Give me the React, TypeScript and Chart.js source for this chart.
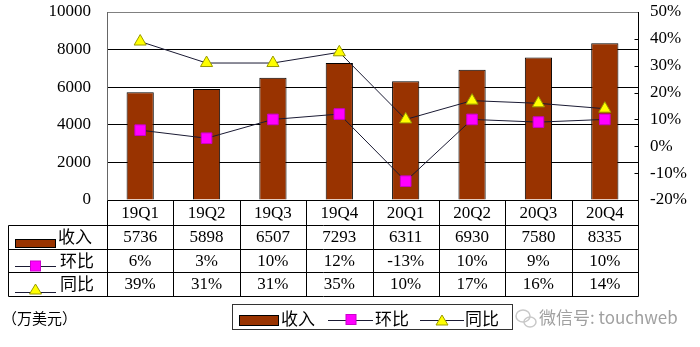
import React, { useEffect, useRef } from 'react';
import { Chart, registerables } from 'chart.js';

Chart.register(...registerables);

const categories = ['19Q1', '19Q2', '19Q3', '19Q4', '20Q1', '20Q2', '20Q3', '20Q4'];
const revenue = [5736, 5898, 6507, 7293, 6311, 6930, 7580, 8335];
const qoq = [6, 3, 10, 12, -13, 10, 9, 10];
const yoy = [39, 31, 31, 35, 10, 17, 16, 14];
const leftTicks = [0, 2000, 4000, 6000, 8000, 10000];
const rightTicks = [-20, -10, 0, 10, 20, 30, 40, 50];
const seriesNames = ['收入', '环比', '同比'];
const unitLabel = '（万美元）';
const watermark = '微信号: touchweb';

const BAR_COLOR = '#993300';
const LINE_COLOR = '#1a1a33';
const SQUARE_COLOR = '#ff00ff';
const TRI_COLOR = '#ffff00';
const SERIF = '"Liberation Serif", "Noto Sans CJK SC", serif';
const CJK = '"Noto Sans CJK SC", sans-serif';

function drawSquare(ctx: CanvasRenderingContext2D, cx: number, cy: number, s: number) {
  ctx.fillStyle = SQUARE_COLOR;
  ctx.strokeStyle = '#cc00cc';
  ctx.lineWidth = 1;
  ctx.fillRect(cx - s / 2, cy - s / 2, s, s);
  ctx.strokeRect(cx - s / 2, cy - s / 2, s, s);
}

function drawTriangle(ctx: CanvasRenderingContext2D, cx: number, bottom: number, w: number, h: number) {
  ctx.fillStyle = TRI_COLOR;
  ctx.strokeStyle = '#999900';
  ctx.lineWidth = 1;
  ctx.beginPath();
  ctx.moveTo(cx, bottom - h);
  ctx.lineTo(cx + w / 2, bottom);
  ctx.lineTo(cx - w / 2, bottom);
  ctx.closePath();
  ctx.fill();
  ctx.stroke();
}

function drawLineSym(ctx: CanvasRenderingContext2D, x1: number, x2: number, y: number) {
  ctx.strokeStyle = LINE_COLOR;
  ctx.lineWidth = 1;
  ctx.beginPath();
  ctx.moveTo(x1, Math.round(y) + 0.5);
  ctx.lineTo(x2, Math.round(y) + 0.5);
  ctx.stroke();
}

const a = (v: number) => Math.round(v) + 0.5;

const frameTicksPlugin = {
  id: 'frameTicks',
  afterDatasetsDraw(chart: any) {
    const ctx: CanvasRenderingContext2D = chart.ctx;
    const area = chart.chartArea;
    const y1 = chart.scales.y1;
    ctx.save();
    ctx.lineWidth = 1;
    ctx.strokeStyle = '#000';
    ctx.beginPath();
    for (const v of rightTicks) {
      if (v === rightTicks[0] || v === rightTicks[rightTicks.length - 1]) continue;
      const py = a(y1.getPixelForValue(v));
      ctx.moveTo(a(area.right) - 4, py);
      ctx.lineTo(a(area.right), py);
    }
    ctx.stroke();
    ctx.restore();
  },
};

const tablePlugin = {
  id: 'dataTable',
  afterDraw(chart: any) {
    const ctx: CanvasRenderingContext2D = chart.ctx;
    const area = chart.chartArea;
    const xs = chart.scales.x;
    const n = categories.length;
    const left = area.left;
    const right = area.right;
    const bounds: number[] = [];
    for (let i = 0; i <= n; i++) {
      if (i === 0) bounds.push(left);
      else if (i === n) bounds.push(right);
      else bounds.push((xs.getPixelForValue(i - 1) + xs.getPixelForValue(i)) / 2);
    }
    const top = area.bottom;
    const rowsY = [top, top + 25, top + 48.5, top + 72, top + 95.5];
    const tableLeft = 8;

    ctx.save();
    ctx.strokeStyle = '#000';
    ctx.lineWidth = 1;
    ctx.beginPath();
    for (let r = 1; r < rowsY.length; r++) {
      ctx.moveTo(a(tableLeft), a(rowsY[r]));
      ctx.lineTo(a(right), a(rowsY[r]));
    }
    ctx.moveTo(a(tableLeft), a(rowsY[1]));
    ctx.lineTo(a(tableLeft), a(rowsY[4]));
    for (const b of bounds) {
      ctx.moveTo(a(b), a(rowsY[0]));
      ctx.lineTo(a(b), a(rowsY[4]));
    }
    ctx.stroke();

    ctx.fillStyle = '#000';
    ctx.textAlign = 'center';
    ctx.textBaseline = 'middle';
    ctx.font = `17px ${SERIF}`;
    const rowTexts = [
      categories,
      revenue.map((v) => String(v)),
      qoq.map((v) => v + '%'),
      yoy.map((v) => v + '%'),
    ];
    for (let r = 0; r < 4; r++) {
      const cy = (rowsY[r] + rowsY[r + 1]) / 2 + 1;
      for (let i = 0; i < n; i++) {
        ctx.fillText(rowTexts[r][i], xs.getPixelForValue(i), cy);
      }
    }

    ctx.fillStyle = BAR_COLOR;
    ctx.strokeStyle = '#000';
    ctx.fillRect(15, 239, 41, 9);
    ctx.strokeRect(15.5, 239.5, 40, 8);
    drawLineSym(ctx, 15, 56, 266);
    drawSquare(ctx, 35.5, 266, 10);
    drawLineSym(ctx, 15, 56, 292);
    drawTriangle(ctx, 35.5, 294, 12, 10);

    ctx.fillStyle = '#000';
    ctx.textAlign = 'left';
    ctx.font = `17px ${CJK}`;
    ctx.fillText(seriesNames[0], 58, (rowsY[1] + rowsY[2]) / 2);
    ctx.fillText(seriesNames[1], 60, (rowsY[2] + rowsY[3]) / 2);
    ctx.fillText(seriesNames[2], 60, (rowsY[3] + rowsY[4]) / 2);

    ctx.font = `15px ${CJK}`;
    ctx.fillText(unitLabel, 2, 318);

    ctx.strokeStyle = '#333';
    ctx.strokeRect(232.5, 304.5, 280, 25);
    ctx.fillStyle = BAR_COLOR;
    ctx.fillRect(239, 315, 40, 11);
    ctx.strokeStyle = '#000';
    ctx.strokeRect(239.5, 315.5, 39, 10);
    drawLineSym(ctx, 328, 373, 320);
    drawSquare(ctx, 351, 319.5, 10);
    drawLineSym(ctx, 420, 464, 320);
    drawTriangle(ctx, 442, 325, 12, 10);
    ctx.fillStyle = '#000';
    ctx.font = `17px ${CJK}`;
    ctx.fillText(seriesNames[0], 281, 319);
    ctx.fillText(seriesNames[1], 375, 319);
    ctx.fillText(seriesNames[2], 465, 319);

    ctx.strokeStyle = '#c8c8c8';
    ctx.lineWidth = 1.5;
    ctx.beginPath();
    ctx.ellipse(523, 316, 7, 6, 0, 0, Math.PI * 2);
    ctx.stroke();
    ctx.beginPath();
    ctx.ellipse(530, 322, 6, 5, 0, 0, Math.PI * 2);
    ctx.stroke();
    ctx.fillStyle = '#a0a0a0';
    ctx.font = `17px ${CJK}`;
    ctx.fillText(watermark, 539, 318);
    ctx.restore();
  },
};

export default function App() {
  const ref = useRef<HTMLCanvasElement | null>(null);
  useEffect(() => {
    if (!ref.current) return;
    const chart = new Chart(ref.current, {
      type: 'bar',
      data: {
        labels: categories,
        datasets: [
          {
            type: 'line',
            label: seriesNames[2],
            data: yoy,
            yAxisID: 'y1',
            borderColor: LINE_COLOR,
            borderWidth: 1,
            pointStyle: 'triangle',
            pointRadius: 7,
            pointBackgroundColor: TRI_COLOR,
            pointBorderColor: '#999900',
            pointBorderWidth: 1,
            tension: 0,
            clip: false,
            order: 0,
          } as any,
          {
            type: 'line',
            label: seriesNames[1],
            data: qoq,
            yAxisID: 'y1',
            borderColor: LINE_COLOR,
            borderWidth: 1,
            pointStyle: 'rect',
            pointRadius: 7.5,
            pointBackgroundColor: SQUARE_COLOR,
            pointBorderColor: '#cc00cc',
            pointBorderWidth: 1,
            tension: 0,
            clip: false,
            order: 1,
          } as any,
          {
            type: 'bar',
            label: seriesNames[0],
            data: revenue,
            yAxisID: 'y',
            backgroundColor: BAR_COLOR,
            borderColor: '#000',
            borderWidth: 1,
            barPercentage: 0.41,
            categoryPercentage: 1,
            order: 2,
          } as any,
        ],
      },
      options: {
        responsive: true,
        maintainAspectRatio: false,
        animation: false,
        layout: { autoPadding: false, padding: { top: 12, bottom: 147, left: 0, right: 0 } },
        plugins: { legend: { display: false }, tooltip: { enabled: false } },
        scales: {
          x: { type: 'category', display: false, offset: true },
          y: {
            position: 'left',
            min: 0,
            max: 10000,
            afterFit: (s: any) => { s.width = 107; },
            afterBuildTicks: (s: any) => { s.ticks = leftTicks.map((v) => ({ value: v })); },
            ticks: {
              padding: 0,
              color: '#000',
              font: { family: SERIF, size: 17 },
              callback: (v: any) => String(v),
            },
            grid: {
              display: true,
              drawOnChartArea: true,
              drawTicks: true,
              tickLength: 16,
              tickColor: 'rgba(0,0,0,0)',
              lineWidth: 1,
              color: (c: any) => (c.tick && c.tick.value === 10000 ? '#808080' : '#000000'),
            },
            border: { display: true, color: '#666666', width: 1 },
          },
          y1: {
            position: 'right',
            min: -20,
            max: 50,
            afterFit: (s: any) => { s.width = 62; },
            afterBuildTicks: (s: any) => { s.ticks = rightTicks.map((v) => ({ value: v })); },
            ticks: {
              padding: 0,
              color: '#000',
              font: { family: SERIF, size: 17 },
              callback: (v: any) => v + '%',
            },
            grid: {
              display: true,
              drawOnChartArea: false,
              drawTicks: true,
              tickLength: 12,
              tickColor: 'rgba(0,0,0,0)',
            },
            border: { display: true, color: '#000000', width: 1 },
          },
        },
      } as any,
      plugins: [frameTicksPlugin, tablePlugin],
    });
    return () => chart.destroy();
  }, []);
  return (
    <div style={{ position: 'fixed', left: 0, top: 0, width: 700, height: 347, background: '#fff' }}>
      <canvas ref={ref} style={{ display: 'block' }} />
    </div>
  );
}
